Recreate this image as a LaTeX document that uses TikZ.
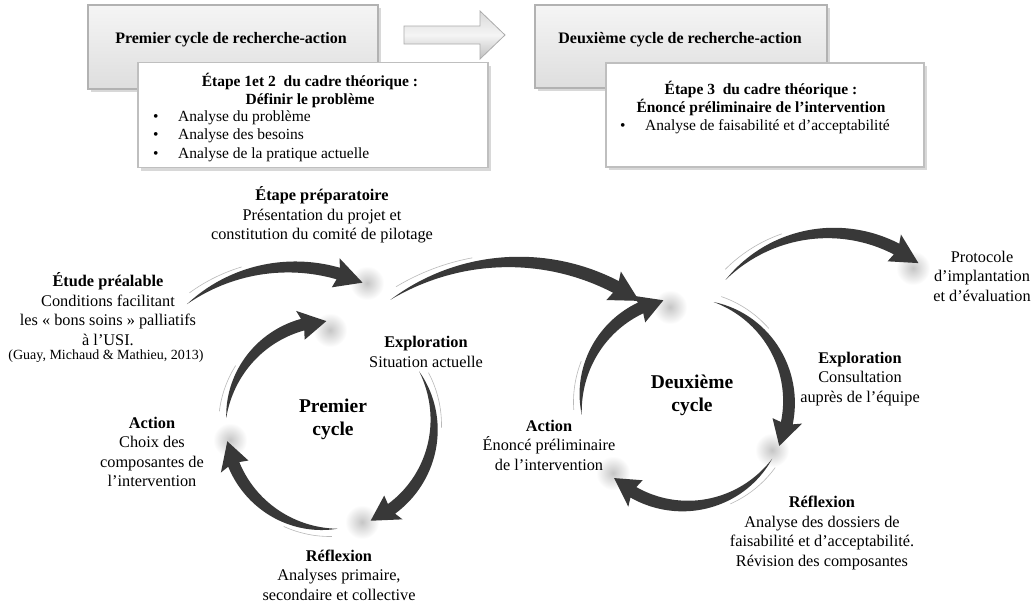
\documentclass[tikz,border=0pt]{standalone}
\usepackage{fontspec}
\setmainfont{Liberation Serif}
\usetikzlibrary{shadows}
\tikzset{
 arrowfill/.style={fill=black!78},
 txt/.style={align=center, inner sep=0pt, font=\fontsize{16.3}{19.5}\selectfont},
 boxtxt/.style={inner sep=0pt, font=\fontsize{15.5}{18}\selectfont},
 boxtitle/.style={align=center, inner sep=0pt, font=\fontsize{15.5}{18}\selectfont\bfseries},
 cyc/.style={align=center, inner sep=0pt, font=\fontsize{19.5}{23}\selectfont\bfseries},
 graybox/.style={draw=gray!60, line width=1.2pt, top color=gray!8, bottom color=gray!26,
   drop shadow={opacity=0.3, shadow xshift=3pt, shadow yshift=-3pt}},
 whitebox/.style={draw=gray!50, line width=1.5pt, fill=white,
   drop shadow={opacity=0.3, shadow xshift=3pt, shadow yshift=-3pt}},
 glow/.style={inner color=gray!45, outer color=white},
 swoosh/.style={draw=gray!55, line width=0.6pt},
}
% tapered circular arrow: cx, cy, r, tail angle, tip angle, body width, head half-width, head length
\newcommand{\tarrow}[8]{%
 \pgfmathsetmacro{\bb}{#5-#8/#3*57.2958}%
 \pgfmathsetmacro{\bk}{\bb-0.10*(#5-\bb)}%
 \fill[arrowfill] plot[domain=0:1,samples=60,variable=\pp]
   ({#1+(#3+0.5*#6*\pp*(2-\pp))*cos(#4+(\bb-#4)*\pp)},{#2+(#3+0.5*#6*\pp*(2-\pp))*sin(#4+(\bb-#4)*\pp)})
  -- ({#1+(#3+#7)*cos(\bk)},{#2+(#3+#7)*sin(\bk)})
  -- ({#1+#3*cos(#5)},{#2+#3*sin(#5)})
  -- ({#1+(#3-#7)*cos(\bk)},{#2+(#3-#7)*sin(\bk)})
  -- plot[domain=0:1,samples=60,variable=\pp]
   ({#1+(#3-0.5*#6*(1-\pp)*(1+\pp))*cos(\bb-(\bb-#4)*\pp)},{#2+(#3-0.5*#6*(1-\pp)*(1+\pp))*sin(\bb-(\bb-#4)*\pp)})
  -- cycle;
 \draw[swoosh] plot[domain=0:1,samples=30,variable=\pp]
   ({#1+(#3+0.5*#6+1.5)*cos(#4+3+(#5-#4)*0.3*\pp)},{#2+(#3+0.5*#6+1.5)*sin(#4+3+(#5-#4)*0.3*\pp)});
}
\begin{document}
\begin{tikzpicture}[x=1pt,y=-1pt]
\useasboundingbox[fill=white] (0,0) rectangle (1034,603);

% ---------- top boxes ----------
\node[graybox, minimum width=290pt, minimum height=84pt] (g1) at (233,47) {};
\node[boxtitle, font=\fontsize{16}{18}\selectfont\bfseries] (g1t) at (231,40) {Premier cycle de recherche-action};
\node[whitebox, minimum width=350pt, minimum height=105pt] (w1) at (313,115) {};
\node[boxtitle] (w1t) at (310,90) {Étape 1et 2\ \ du cadre théorique :\\Définir le problème};
\node[boxtxt, anchor=base west] (b1a) at (153,121) {•};
\node[boxtxt, anchor=base west] (t1a) at (178,121) {Analyse du problème};
\node[boxtxt, anchor=base west] (b1b) at (153,139) {•};
\node[boxtxt, anchor=base west] (t1b) at (178,139) {Analyse des besoins};
\node[boxtxt, anchor=base west] (b1c) at (153,158) {•};
\node[boxtxt, anchor=base west] (t1c) at (178,158) {Analyse de la pratique actuelle};

\node[graybox, minimum width=292pt, minimum height=83pt] (g2) at (681,46.5) {};
\node[boxtitle, font=\fontsize{16}{18}\selectfont\bfseries] (g2t) at (680,40) {Deuxième cycle de recherche-action};
\node[whitebox, minimum width=318pt, minimum height=104pt] (w2) at (765,115) {};
\node[boxtitle] (w2t) at (761,98) {Étape 3\ \ du cadre théorique :\\Énoncé préliminaire de l’intervention};
\node[boxtxt, anchor=base west] (b2a) at (620,130) {•};
\node[boxtxt, anchor=base west] (t2a) at (645,130) {Analyse de faisabilité et d’acceptabilité};

% block arrow between the cycles
\path[draw=gray!65, line width=0.8pt, top color=gray!30, bottom color=gray!50, middle color=gray!8]
  (404,26) -- (480,26) -- (480,11) -- (505,35) -- (480,59) -- (480,44) -- (404,44) -- cycle;

% ---------- glows ----------
\foreach \gx/\gy in {330/330, 362/522, 230/440, 367/283, 670/307, 772/450, 613/473, 913/268}
  \shade[glow] (\gx,\gy) circle (17);

% ---------- arrows ----------
% first cycle, centre (330,425)
\tarrow{330}{425}{104}{184}{268}{12}{15}{24}
\tarrow{330}{425}{104}{329}{427}{12}{15}{24}
\tarrow{330}{425}{104}{86}{171}{12}{15}{24}
% second cycle, centre (685,402)
\tarrow{685}{402}{104}{173}{258}{12}{15}{24}
\tarrow{685}{402}{104}{286}{385}{12}{15}{24}
\tarrow{685}{402}{104}{33}{133}{12}{15}{24}
% outer arrows
\tarrow{292}{434}{167}{231}{295}{12}{15}{26}
\tarrow{514}{483}{221}{236}{304.5}{13}{16}{27}
\tarrow{831}{375}{142}{222}{308}{12}{15}{26}

% ---------- texts ----------
\node[txt] (prep) at (322,215) {\textbf{Étape préparatoire}\\Présentation du projet et\\constitution du comité de pilotage};
\node[txt] (etude) at (108,309) {\textbf{Étude préalable}\\Conditions facilitant\\les « bons soins » palliatifs\\à l’USI.};
\node[txt, font=\fontsize{14}{17}\selectfont] (ref) at (106,356) {(Guay, Michaud \& Mathieu, 2013)};
\node[txt] (explo1) at (426,352) {\textbf{Exploration}\\Situation actuelle};
\node[cyc] (cyc1) at (333,419) {Premier\\cycle};
\node[txt] (action1) at (152,452) {\textbf{Action}\\Choix des\\composantes de\\l’intervention};
\node[txt] (refl1) at (339,575) {\textbf{Réflexion}\\Analyses primaire,\\secondaire et collective};
\node[cyc] (cyc2) at (692,395) {Deuxième\\cycle};
\node[txt] (explo2) at (860,379) {\textbf{Exploration}\\Consultation\\auprès de l’équipe};
\node[txt] (action2) at (549,445) {\textbf{Action}\\Énoncé préliminaire\\de l’intervention};
\node[txt] (refl2) at (822,533) {\textbf{Réflexion}\\Analyse des dossiers de\\faisabilité et d’acceptabilité.\\Révision des composantes};
\node[txt] (proto) at (982,276) {Protocole\\d’implantation\\et d’évaluation};
\end{tikzpicture}
\end{document}
